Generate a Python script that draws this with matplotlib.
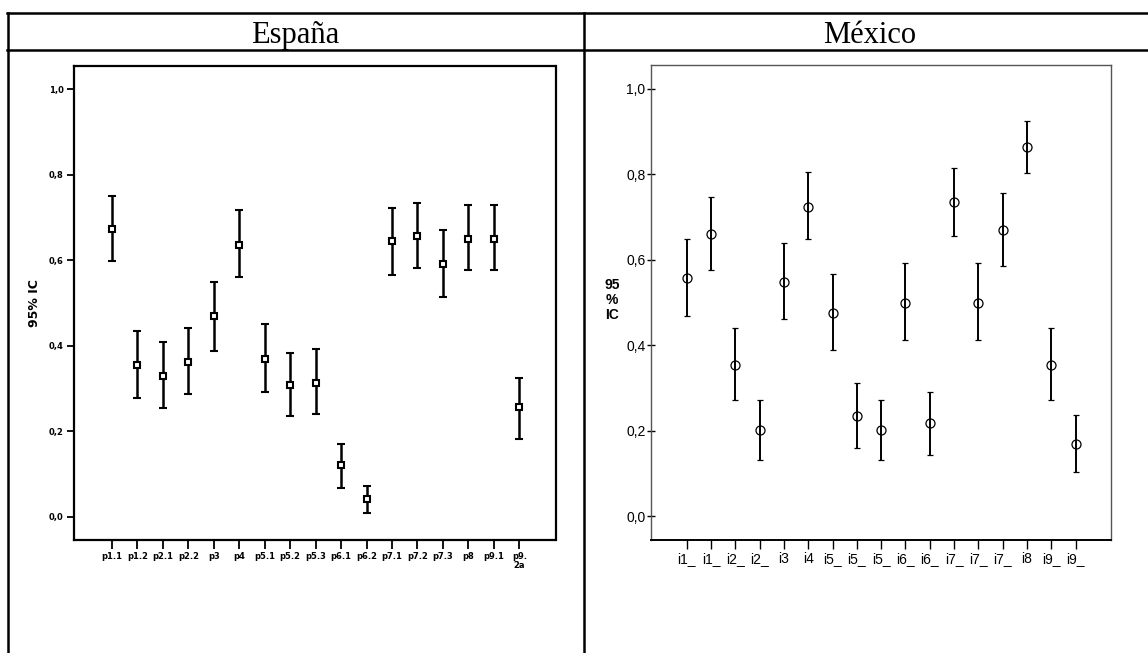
import matplotlib
matplotlib.use('Agg')
import matplotlib.pyplot as plt
from matplotlib.lines import Line2D

W, H = 1148, 653

# España: media e intervalo de confianza al 95%
es_labels = ['p1.1', 'p1.2', 'p2.1', 'p2.2', 'p3', 'p4', 'p5.1', 'p5.2', 'p5.3',
             'p6.1', 'p6.2', 'p7.1', 'p7.2', 'p7.3', 'p8', 'p9.1', 'p9.\n2a']
es_mean = [0.672, 0.356, 0.329, 0.361, 0.470, 0.636, 0.369, 0.309, 0.314,
           0.122, 0.041, 0.644, 0.657, 0.590, 0.650, 0.650, 0.256]
es_low = [0.598, 0.277, 0.255, 0.288, 0.387, 0.560, 0.293, 0.235, 0.240,
          0.067, 0.010, 0.565, 0.581, 0.514, 0.576, 0.576, 0.183]
es_high = [0.751, 0.435, 0.408, 0.441, 0.550, 0.718, 0.452, 0.382, 0.392,
           0.171, 0.073, 0.723, 0.734, 0.670, 0.729, 0.729, 0.324]

# México
mx_labels = ['i1_', 'i1_', 'i2_', 'i2_', 'i3', 'i4', 'i5_', 'i5_', 'i5_',
             'i6_', 'i6_', 'i7_', 'i7_', 'i7_', 'i8', 'i9_', 'i9_']
mx_mean = [0.557, 0.660, 0.354, 0.202, 0.549, 0.724, 0.475, 0.234, 0.202,
           0.500, 0.218, 0.734, 0.500, 0.670, 0.863, 0.354, 0.169]
mx_low = [0.469, 0.576, 0.271, 0.132, 0.462, 0.648, 0.388, 0.160, 0.132,
          0.413, 0.144, 0.656, 0.413, 0.586, 0.802, 0.271, 0.104]
mx_high = [0.648, 0.746, 0.441, 0.273, 0.639, 0.805, 0.567, 0.312, 0.273,
           0.592, 0.292, 0.814, 0.592, 0.757, 0.925, 0.441, 0.238]

yticks = [0.0, 0.2, 0.4, 0.6, 0.8, 1.0]
ytick_labels = ['0,0', '0,2', '0,4', '0,6', '0,8', '1,0']


def px_box(l, t, r, b):
    return [l / W, 1 - b / H, (r - l) / W, (b - t) / H]


fig = plt.figure(figsize=(W / 100, H / 100), dpi=100)

# lineas de la tabla
for y in (13, 50):
    fig.add_artist(Line2D([7 / W, 1], [1 - y / H] * 2, transform=fig.transFigure,
                          color='black', lw=1.8))
for x in (7.5, 584):
    fig.add_artist(Line2D([x / W] * 2, [1 - 13 / H, 0], transform=fig.transFigure,
                          color='black', lw=1.8))

fig.text(295 / W, 1 - 43 / H, 'España', family='Liberation Serif', fontsize=22,
         ha='center', va='baseline')
fig.text(870 / W, 1 - 43 / H, 'México', family='Liberation Serif', fontsize=22,
         ha='center', va='baseline')

# --- España ---
ax1 = fig.add_axes(px_box(73.5, 66, 555.5, 540))
x = list(range(len(es_labels)))
yerr = [[m - lo for m, lo in zip(es_mean, es_low)],
        [hi - m for m, hi in zip(es_mean, es_high)]]
ax1.errorbar(x, es_mean, yerr=yerr, fmt='s', color='black', mfc='white',
             mec='black', ms=4.5, mew=1.5, elinewidth=1.8, capsize=2.7, capthick=1.8)
ax1.set_xlim(-1.51, 17.42)
ax1.set_ylim(-0.054, 1.054)
ax1.set_xticks(x)
ax1.set_xticklabels(es_labels, fontsize=6, fontweight='bold', family='DejaVu Sans',
                    va='top', linespacing=1.0)
ax1.set_yticks(yticks)
ax1.set_yticklabels(ytick_labels, fontsize=6, fontweight='bold', family='DejaVu Sans')
ax1.tick_params(axis='x', length=6.5, width=1.3, pad=2)
ax1.tick_params(axis='y', length=5, width=1.3, pad=2)
for s in ax1.spines.values():
    s.set_linewidth(1.6)
fig.text(35 / W, 1 - 303 / H, '95% IC', rotation=90, fontsize=9, fontweight='bold',
         family='DejaVu Sans', ha='center', va='center')

# --- México ---
ax2 = fig.add_axes(px_box(651, 65, 1111, 540))
x = list(range(len(mx_labels)))
yerr = [[m - lo for m, lo in zip(mx_mean, mx_low)],
        [hi - m for m, hi in zip(mx_mean, mx_high)]]
ax2.errorbar(x, mx_mean, yerr=yerr, fmt='o', color='black', mfc='none',
             mec='black', ms=6.5, mew=0.9, elinewidth=1.4, capsize=2.4, capthick=1.4)
ax2.set_xlim(-1.47, 17.46)
ax2.set_ylim(-0.055, 1.055)
ax2.set_xticks(x)
ax2.set_xticklabels(mx_labels, fontsize=10, family='Liberation Sans')
ax2.set_yticks(yticks)
ax2.set_yticklabels(ytick_labels, fontsize=10, family='Liberation Sans')
ax2.tick_params(axis='x', length=6.5, width=1.0, pad=2)
ax2.tick_params(axis='y', direction='inout', length=6, width=1.0, pad=1)
for name in ('left', 'top', 'right'):
    ax2.spines[name].set_color('#555555')
    ax2.spines[name].set_linewidth(1.0)
ax2.spines['bottom'].set_linewidth(1.4)
fig.text(612 / W, 1 - 300 / H, '95\n%\nIC', fontsize=10, fontweight='bold',
         family='Liberation Sans', ha='center', va='center', linespacing=1.05)

fig.savefig('out.png', dpi=100)
